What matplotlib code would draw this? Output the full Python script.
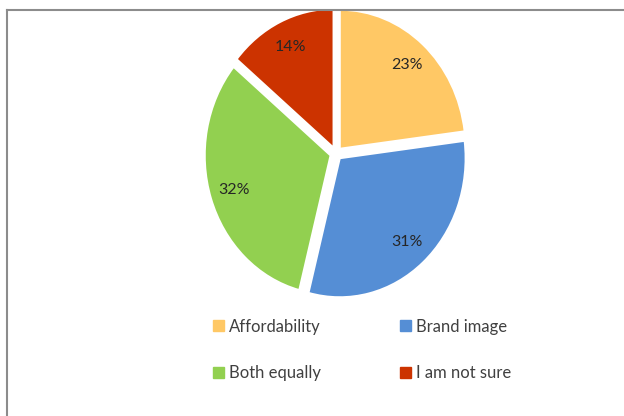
import numpy as np
import matplotlib.pyplot as plt
import matplotlib.patches as mpatches
from matplotlib.lines import Line2D

# survey answers, clockwise from 12 o'clock
labels = ['Affordability', 'Brand image', 'Both equally', 'I am not sure']
shares = [23, 31, 32, 14]
colors = ['#FFC865', '#558ED5', '#92D050', '#CC3300']

plt.rcParams['font.family'] = ['Lato', 'DejaVu Sans']

fig = plt.figure(figsize=(6.24, 4.16), dpi=100)

# pie area (slightly taller than wide, like the source chart)
w, h = 277 / 624, 306 / 416
cx, cy = 336 / 624, 1 - 153.5 / 416
ax = fig.add_axes([cx - w / 2, cy - h / 2, w, h])
wedges, texts = ax.pie(
    shares, colors=colors, startangle=90, counterclock=False,
    explode=[0.045] * len(shares),
    wedgeprops=dict(edgecolor='white', linewidth=1.5),
)
for wdg, val in zip(wedges, shares):
    ang = np.deg2rad((wdg.theta1 + wdg.theta2) / 2)
    r = 0.85
    ax.text(r * np.cos(ang), r * np.sin(ang), '{}%'.format(val),
            ha='center', va='center', fontsize=11.5, color='#262626')
ax.set_xlim(-1.1, 1.1)
ax.set_ylim(-1.1, 1.1)
ax.set_aspect('auto')
ax.axis('off')

# legend fills column by column, so order the handles to read row by row
order = [0, 2, 1, 3]
handles = [mpatches.Patch(color=colors[i], label=labels[i]) for i in order]
fig.legend(handles=handles, ncol=2, loc='center',
           bbox_to_anchor=(362 / 624, 1 - 350 / 416), frameon=False,
           fontsize=12, handlelength=0.65, handleheight=0.65,
           handletextpad=0.3, columnspacing=4.75, labelspacing=1.85,
           labelcolor='#404040')

# chart frame: only top and left edges fall inside the image
fig.add_artist(Line2D([7 / 624, 1], [1 - 9.5 / 416] * 2, color='#8c8c8c', lw=1.5))
fig.add_artist(Line2D([7 / 624] * 2, [0, 1 - 9.5 / 416], color='#8c8c8c', lw=1.5))

fig.savefig('out.png', dpi=100)
